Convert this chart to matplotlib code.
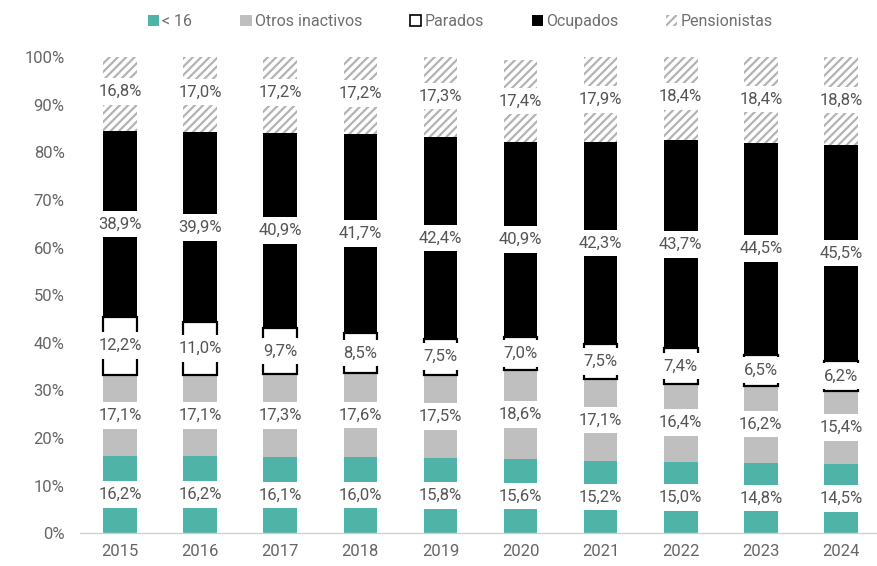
import numpy as np
import matplotlib
matplotlib.use("Agg")
import matplotlib.pyplot as plt
from matplotlib.patches import Patch
from matplotlib.ticker import FuncFormatter

plt.rcParams['font.family'] = ['Roboto', 'DejaVu Sans']
plt.rcParams['hatch.linewidth'] = 1.6
plt.rcParams['hatch.color'] = '#b3b3b3'

years = ['2015', '2016', '2017', '2018', '2019', '2020', '2021', '2022', '2023', '2024']
menores16 = [16.2, 16.2, 16.1, 16.0, 15.8, 15.6, 15.2, 15.0, 14.8, 14.5]
otros_inactivos = [17.1, 17.1, 17.3, 17.6, 17.5, 18.6, 17.1, 16.4, 16.2, 15.4]
parados = [12.2, 11.0, 9.7, 8.5, 7.5, 7.0, 7.5, 7.4, 6.5, 6.2]
ocupados = [38.9, 39.9, 40.9, 41.7, 42.4, 40.9, 42.3, 43.7, 44.5, 45.5]
pensionistas = [16.8, 17.0, 17.2, 17.2, 17.3, 17.4, 17.9, 18.4, 18.4, 18.8]

series = [
    ('< 16', menores16, dict(color='#50b3a8')),
    ('Otros inactivos', otros_inactivos, dict(color='#bfbfbf')),
    ('Parados', parados, dict(facecolor='white', edgecolor='black', linewidth=1.6)),
    ('Ocupados', ocupados, dict(color='black')),
    ('Pensionistas', pensionistas, dict(facecolor='white', edgecolor='#b3b3b3', hatch='////', linewidth=0)),
]

fig = plt.figure(figsize=(8.77, 5.66), dpi=100)
ax = fig.add_axes([0.0912, 0.058, 0.9088, 0.841])

x = np.arange(len(years))
width = 0.42
bottom = np.zeros(len(years))
for name, vals, style in series:
    vals = np.array(vals)
    ax.bar(x, vals, width, bottom=bottom, **style)
    for xi, b, v in zip(x, bottom, vals):
        ax.text(xi, b + v / 2, f"{v:.1f}%".replace('.', ','), ha='center', va='center',
                fontsize=12, color='#555555', zorder=5,
                bbox=dict(boxstyle='square,pad=0.35', fc='white', ec='none'))
    bottom += vals

ax.set_xlim(-0.5, 9.45)
ax.set_ylim(0, 100)
ax.set_yticks(np.arange(0, 101, 10))
ax.yaxis.set_major_formatter(FuncFormatter(lambda v, p: f"{v:.0f}%"))
ax.set_xticks(x)
ax.set_xticklabels(years)
ax.tick_params(axis='both', length=0, labelsize=12, colors='#666666', pad=8)
ax.tick_params(axis='y', pad=11)
for s in ['top', 'right', 'left']:
    ax.spines[s].set_visible(False)
ax.spines['bottom'].set_color('#d0d0d0')
ax.spines['bottom'].set_linewidth(1.0)

handles = [
    Patch(facecolor='#50b3a8', label='< 16'),
    Patch(facecolor='#bfbfbf', label='Otros inactivos'),
    Patch(facecolor='white', edgecolor='black', linewidth=1.2, label='Parados'),
    Patch(facecolor='black', label='Ocupados'),
    Patch(facecolor='white', edgecolor='#b3b3b3', hatch='////', linewidth=0, label='Pensionistas'),
]
leg = fig.legend(handles=handles, loc='upper center', bbox_to_anchor=(0.525, 1.0), ncol=5,
                 frameon=False, fontsize=11.5, handlelength=0.7, handleheight=0.7,
                 handletextpad=0.2, columnspacing=3.0)
for t in leg.get_texts():
    t.set_color('#6f6f6f')

fig.savefig('out.png', dpi=100)
